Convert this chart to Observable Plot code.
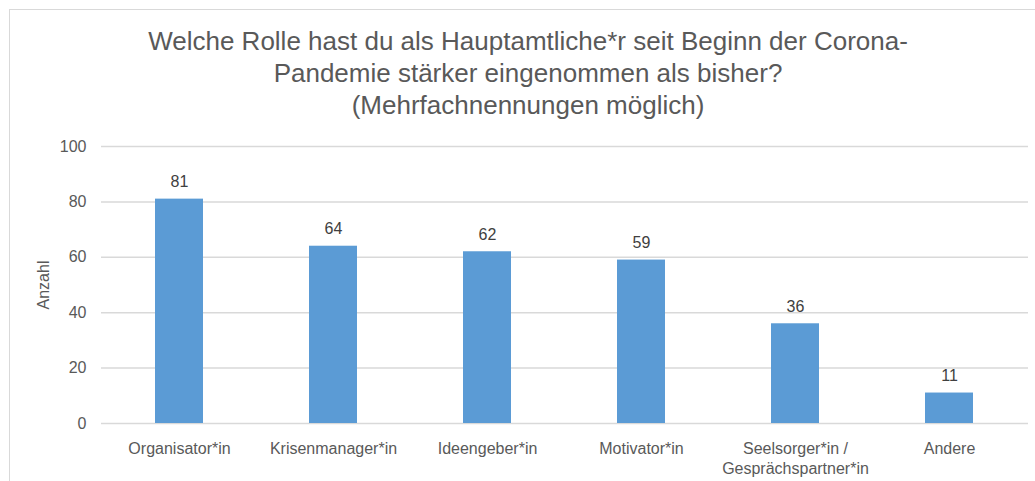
<!DOCTYPE html>
<html>
<head>
<meta charset="utf-8">
<script src="https://cdn.jsdelivr.net/npm/d3@7"></script>
<script src="https://cdn.jsdelivr.net/npm/@observablehq/plot@0.6"></script>
<style>
  html, body { margin: 0; padding: 0; background: #fff; }
  #wrap { position: relative; width: 1035px; height: 481px; overflow: hidden; font-family: "Liberation Sans", Arial, sans-serif; }
  #frame { position: absolute; left: 9px; top: 9px; width: 1200px; height: 700px; border: 1.5px solid #d9d9d9; box-sizing: border-box; }
  #title { position: absolute; left: 0; top: 0; width: 1056px; height: 120px; box-sizing: border-box; padding-top: 25px; text-align: center; font-size: 26px; line-height: 32px; color: #595959; }
  #chart { position: absolute; left: 0; top: 120px; }
  svg { overflow: visible; }
</style>
</head>
<body>
<div id="wrap">
  <div id="frame"></div>
  <div id="title">Welche Rolle hast du als Hauptamtliche*r seit Beginn der Corona-<br>Pandemie stärker eingenommen als bisher?<br>(Mehrfachnennungen möglich)</div>
  <div id="chart"></div>
</div>
<script>
const categories = ["Organisator*in", "Krisenmanager*in", "Ideengeber*in", "Motivator*in", "Seelsorger*in / Gesprächspartner*in", "Andere"];
const tickLabels = ["Organisator*in", "Krisenmanager*in", "Ideengeber*in", "Motivator*in", "Seelsorger*in /\nGesprächspartner*in", "Andere"];
const values = [81, 64, 62, 59, 36, 11];
const yTicks = [0, 20, 40, 60, 80, 100];
const yLabel = "Anzahl";

const data = categories.map((c, i) => ({category: c, value: values[i]}));
const labelOf = new Map(categories.map((c, i) => [c, tickLabels[i]]));

const chart = Plot.plot({
  width: 1035,
  height: 361,
  marginLeft: 101,
  marginRight: 7,
  marginTop: 26,
  marginBottom: 58,
  style: {fontFamily: '"Liberation Sans", Arial, sans-serif', fontSize: "16px", background: "transparent"},
  x: {domain: categories, paddingInner: 0.686, paddingOuter: 0.343},
  y: {domain: [0, 100]},
  marks: [
    Plot.ruleY(yTicks, {stroke: "#d9d9d9", strokeWidth: 1.5}),
    Plot.barY(data, {x: "category", y: "value", fill: "#5b9bd5"}),
    Plot.text(data, {x: "category", y: "value", text: d => String(d.value), dy: -17, fill: "#404040", fontSize: 16}),
    Plot.axisY({ticks: yTicks, tickSize: 0, tickPadding: 15, label: null, fill: "#595959", fontSize: 16}),
    Plot.axisX({tickSize: 0, tickPadding: 16, label: null, tickFormat: d => labelOf.get(d), fill: "#595959", fontSize: 16, lineHeight: 1.25}),
    Plot.text([yLabel], {frameAnchor: "left", textAnchor: "middle", dx: -58, rotate: -90, text: d => d, fill: "#595959", fontSize: 16})
  ]
});
document.getElementById("chart").appendChild(chart);
</script>
</body>
</html>
